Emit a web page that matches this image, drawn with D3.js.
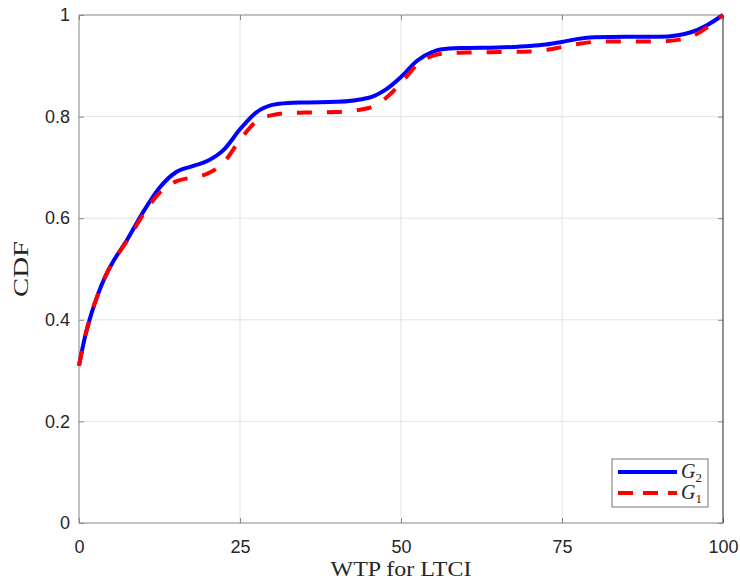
<!DOCTYPE html>
<html>
<head>
<meta charset="utf-8">
<script src="https://cdn.jsdelivr.net/npm/d3@7"></script>
<style>
  body { margin: 0; background: #fff; }
  .tick text { font-family: "Liberation Sans", Arial, sans-serif; font-size: 18px; fill: #262626; }
</style>
</head>
<body>
<svg id="chart"></svg>
<script>
var wtp = [0, 1, 2, 3, 4, 5, 7.5, 10, 12.5, 15, 17.5, 20, 22.5, 25, 27.5, 30, 32.5, 35, 40, 45, 47.5,
    50, 52.5, 55, 57.5, 60, 65, 70, 72.5, 75, 77.5, 80, 85, 90, 93, 95, 97.5, 100];
var cdfG2 = [0.31, 0.37, 0.415, 0.452, 0.483, 0.508, 0.558, 0.613, 0.66, 0.69, 0.702, 0.713, 0.735, 0.775, 0.808, 0.823, 0.827, 0.828, 0.829, 0.837, 0.852,
    0.878, 0.91, 0.928, 0.934, 0.935, 0.936, 0.939, 0.942, 0.947, 0.953, 0.956, 0.957, 0.957, 0.96, 0.966, 0.98, 1.0];
var cdfG1 = [0.31, 0.37, 0.415, 0.452, 0.483, 0.508, 0.556, 0.608, 0.65, 0.672, 0.68, 0.688, 0.71, 0.754, 0.79, 0.803, 0.807, 0.808, 0.809, 0.817, 0.835,
    0.866, 0.902, 0.92, 0.925, 0.926, 0.927, 0.928, 0.931, 0.937, 0.943, 0.947, 0.948, 0.948, 0.951, 0.957, 0.975, 1.0];
var xTicks = [0, 25, 50, 75, 100];
var yTicks = [0, 0.2, 0.4, 0.6, 0.8, 1];

var width = 740, height = 580;
var plotL = 79, plotR = 723, plotT = 15, plotB = 523;

var svg = d3.select("#chart")
    .attr("width", width)
    .attr("height", height);

var x = d3.scaleLinear().domain([0, 100]).range([plotL, plotR]);
var y = d3.scaleLinear().domain([0, 1]).range([plotB, plotT]);

// grid
svg.append("g")
    .selectAll("line")
    .data(xTicks.slice(1, -1))
    .enter().append("line")
        .attr("x1", x).attr("x2", x)
        .attr("y1", plotT).attr("y2", plotB)
        .attr("stroke", "#e3e3e3");
svg.append("g")
    .selectAll("line")
    .data(yTicks.slice(1, -1))
    .enter().append("line")
        .attr("y1", y).attr("y2", y)
        .attr("x1", plotL).attr("x2", plotR)
        .attr("stroke", "#e3e3e3");

// axes with inward ticks
var xAxis = svg.append("g")
    .attr("transform", "translate(0," + plotB + ")")
    .call(d3.axisBottom(x).tickValues(xTicks).tickSize(-5).tickPadding(17).tickFormat(d3.format("d")));
var yAxis = svg.append("g")
    .attr("transform", "translate(" + plotL + ",0)")
    .call(d3.axisLeft(y).tickValues(yTicks).tickSize(-5).tickPadding(9).tickFormat(function(d) { return d === 0 || d === 1 ? d : d.toFixed(1); }));
var xTop = svg.append("g")
    .attr("transform", "translate(0," + plotT + ")")
    .call(d3.axisTop(x).tickValues(xTicks).tickSize(-5).tickFormat(""));
var yRight = svg.append("g")
    .attr("transform", "translate(" + plotR + ",0)")
    .call(d3.axisRight(y).tickValues(yTicks).tickSize(-5).tickFormat(""));
[xAxis, yAxis, xTop, yRight].forEach(function(g) {
    g.select(".domain").remove();
    g.selectAll(".tick line").attr("stroke", "#8a8a8a");
});

// box
svg.append("line").attr("x1", plotL).attr("x2", plotL).attr("y1", plotT).attr("y2", plotB).attr("stroke", "#858585");
svg.append("line").attr("x1", plotL).attr("x2", plotR).attr("y1", plotB).attr("y2", plotB).attr("stroke", "#858585");
svg.append("line").attr("x1", plotL).attr("x2", plotR).attr("y1", plotT).attr("y2", plotT).attr("stroke", "#858585");
svg.append("line").attr("x1", plotR).attr("x2", plotR).attr("y1", plotT).attr("y2", plotB).attr("stroke", "#262626");

// curves
var line = d3.line()
    .x(function(d) { return x(d[0]); })
    .y(function(d) { return y(d[1]); })
    .curve(d3.curveMonotoneX);

svg.append("path")
    .datum(wtp.map(function(v, i) { return [v, cdfG2[i]]; }))
    .attr("d", line)
    .attr("fill", "none")
    .attr("stroke", "#0000ff")
    .attr("stroke-width", 4);

svg.append("path")
    .datum(wtp.map(function(v, i) { return [v, cdfG1[i]]; }))
    .attr("d", line)
    .attr("fill", "none")
    .attr("stroke", "#ff0000")
    .attr("stroke-width", 4)
    .attr("stroke-dasharray", "15,15");

// axis labels
svg.append("text")
    .text("WTP for LTCI")
    .attr("x", (plotL + plotR) / 2)
    .attr("y", 576)
    .attr("text-anchor", "middle")
    .attr("textLength", 141)
    .attr("lengthAdjust", "spacingAndGlyphs")
    .style("font-family", "'Liberation Serif', 'Times New Roman', serif")
    .style("font-size", "21px")
    .style("fill", "#262626");

svg.append("text")
    .text("CDF")
    .attr("transform", "translate(28," + (plotT + plotB) / 2 + ") rotate(-90)")
    .attr("text-anchor", "middle")
    .attr("textLength", 56)
    .attr("lengthAdjust", "spacingAndGlyphs")
    .style("font-family", "'Liberation Serif', 'Times New Roman', serif")
    .style("font-size", "21px")
    .style("fill", "#262626");

// legend
var legend = svg.append("g");
legend.append("rect")
    .attr("x", 612).attr("y", 459)
    .attr("width", 96).attr("height", 48)
    .attr("fill", "#fff")
    .attr("stroke", "#777");

var items = [
    {sub: "2", color: "#0000ff", dash: null, y: 472},
    {sub: "1", color: "#ff0000", dash: "15,10", y: 493}
];
var rows = legend.selectAll("g.item")
    .data(items)
    .enter().append("g");
rows.append("line")
    .attr("x1", 618).attr("x2", 677)
    .attr("y1", function(d) { return d.y; })
    .attr("y2", function(d) { return d.y; })
    .attr("stroke", function(d) { return d.color; })
    .attr("stroke-width", 4)
    .attr("stroke-dasharray", function(d) { return d.dash; });
var lt = rows.append("text")
    .attr("x", 681)
    .attr("y", function(d) { return d.y + 6; })
    .style("font-family", "'Liberation Serif', 'Times New Roman', serif")
    .style("font-size", "20px")
    .style("fill", "#262626");
lt.append("tspan").text("G").style("font-style", "italic");
lt.append("tspan")
    .text(function(d) { return d.sub; })
    .attr("dy", 4)
    .style("font-size", "13px");
</script>
</body>
</html>
